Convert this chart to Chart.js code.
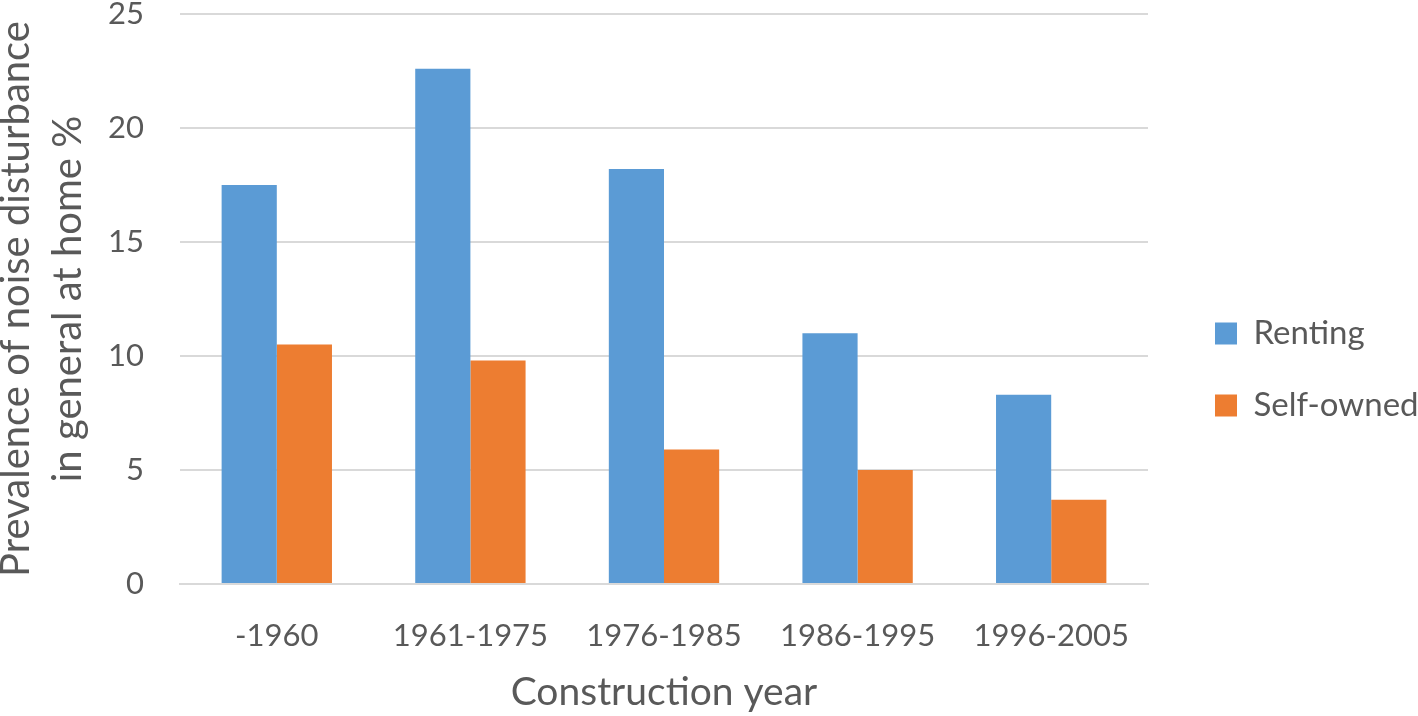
<!DOCTYPE html>
<html>
<head>
<meta charset="utf-8">
<script src="https://cdn.jsdelivr.net/npm/chart.js@4"></script>
<style>
  html, body { margin: 0; padding: 0; background: #fff; }
  #wrap { width: 1418px; height: 716px; position: relative; }
</style>
</head>
<body>
<div id="wrap"><canvas id="noiseChart"></canvas></div>
<script>
const years = ["-1960", "1961-1975", "1976-1985", "1986-1995", "1996-2005"];
const renting = [17.5, 22.6, 18.2, 11.0, 8.3];
const selfOwned = [10.5, 9.8, 5.9, 5.0, 3.7];
const yTicks = [0, 5, 10, 15, 20, 25];

const grey = "#595959";
const fontFamily = "Lato, 'Liberation Sans', sans-serif";

// widen the right legend and nudge its items, so the plot ends where the reference does
const legendPlace = {
  id: 'legendPlace',
  beforeLayout(chart) {
    const lg = chart.legend;
    if (lg && !lg._wide) {
      const fit = lg.fit;
      lg.fit = function () { fit.call(this); this.width = 270; };
      lg._wide = true;
    }
  },
  afterLayout(chart) {
    const lg = chart.legend;
    if (!lg) return;
    lg.left += 28; lg.right += 28;
  }
};

const ctx = document.getElementById("noiseChart");

new Chart(ctx, {
  type: 'bar',
  data: {
    labels: years,
    datasets: [{
        label: "Renting",
        data: renting,
        backgroundColor: "#5B9BD5"
      }, {
        label: "Self-owned",
        data: selfOwned,
        backgroundColor: "#ED7D31"
      }
    ]
  },
  plugins: [legendPlace],
  options: {
    responsive: true,
    maintainAspectRatio: false,
    animation: false,
    layout: { padding: { top: 0, right: 0, bottom: 0, left: -10 } },
    datasets: {
      bar: { categoryPercentage: 0.57, barPercentage: 1.0 }
    },
    plugins: {
      tooltip: { enabled: false },
      legend: {
        position: 'right',
        align: 'start',
        title: { display: true, text: ' ', font: { size: 10 }, padding: { top: 266, bottom: 0 } },
        labels: {
          color: grey,
          font: { family: fontFamily, size: 33 },
          boxWidth: 22,
          boxHeight: 22,
          padding: 39
        }
      }
    },
    scales: {
      x: {
        grid: { display: false },
        border: { color: "#D9D9D9", width: 2 },
        ticks: { color: grey, font: { family: fontFamily, size: 31 }, padding: 25 },
        title: {
          display: true,
          text: "Construction year",
          color: grey,
          font: { family: fontFamily, size: 39 },
          padding: { top: 18, bottom: 0 }
        },
        afterFit: (axis) => { axis.height = 132; }
      },
      y: {
        min: 0,
        max: 25,
        afterBuildTicks: (axis) => { axis.ticks = yTicks.map(v => ({ value: v })); },
        grid: { color: "#D9D9D9", lineWidth: 2, drawTicks: false },
        border: { display: false },
        ticks: { color: grey, font: { family: fontFamily, size: 31 }, padding: 36 },
        title: {
          display: true,
          text: ["Prevalence of noise disturbance", "in general at home %"],
          color: grey,
          font: { family: fontFamily, size: 40, lineHeight: 1.3 },
          padding: { top: 0, bottom: 4 }
        },
        afterFit: (axis) => { axis.width = 190; axis.paddingTop = 14; }
      }
    }
  }
});
</script>
</body>
</html>
